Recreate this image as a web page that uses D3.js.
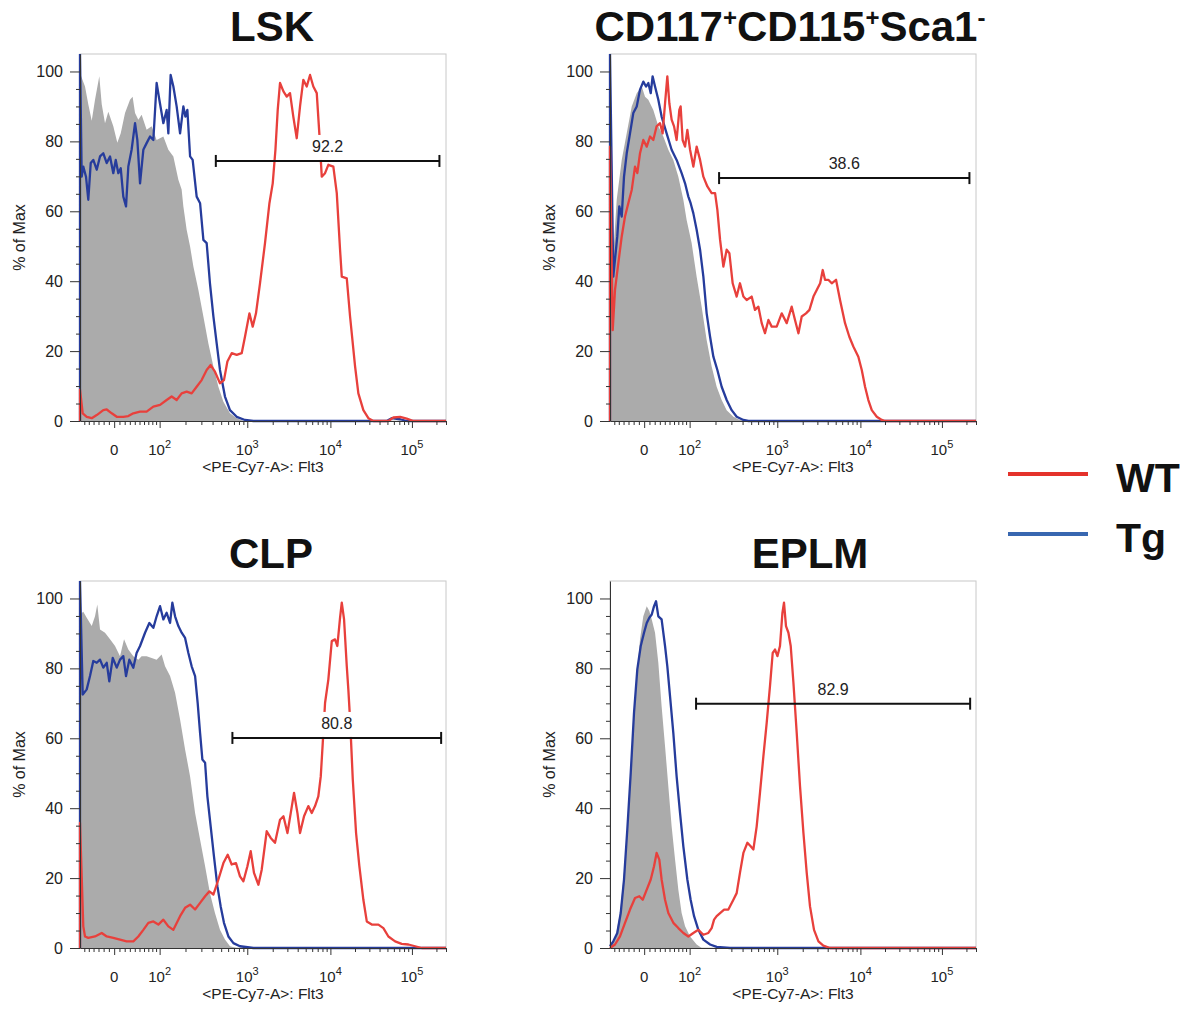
<!DOCTYPE html>
<html>
<head>
<meta charset="utf-8">
<script src="https://cdn.jsdelivr.net/npm/d3@7"></script>
<style>
  body { margin: 0; background: #fff; }
  svg { font-family: "Liberation Sans", Arial, sans-serif; }
</style>
</head>
<body>
<svg id="chart" width="1188" height="1010"></svg>
<script>
// Histograms: [channel (0-256 display bins), % of max]
var titles = ['LSK', 'CD117^+CD115^+Sca1^-', 'CLP', 'EPLM'];

var lskControl = [[0,99.5],[3.5,95.7],[5.8,90.6],[8.2,85.9],[10.5,91.9],[13.5,98.6],[15.2,90.6],[17.5,85.2],[19.8,88.5],[23.3,84.3],[26.1,79.6],[28.5,82.3],[31.5,88.1],[35,91.9],[36.8,92.8],[38.5,88.1],[40.8,86.2],[43.1,87.6],[46.6,83.3],[50.1,84.3],[53.6,80.4],[58.3,81.4],[61.8,77.6],[65.3,75.7],[68.8,69],[71.1,66.2],[72.3,61.4],[74.6,54.7],[77,49.9],[79.3,44.2],[82.8,37.5],[86.3,29.9],[89.8,22.2],[93.3,15.6],[96.8,9.8],[100.3,5.5],[104.9,2.2],[109.6,0.8],[114.3,0]];
var lskTg = [[0,0],[0,105],[1.2,69.9],[2.3,72.8],[4.2,69.9],[5.8,63.3],[7.5,73.8],[9.3,74.7],[11.7,71.9],[14,75.7],[16.3,76.6],[18.7,73.8],[21,75.7],[23.3,70.9],[25,74.7],[26.8,70.9],[28.5,72.3],[30.3,64.2],[32.2,61.4],[33.8,72.8],[36.1,77.6],[38.5,85.2],[40.1,80.4],[42,68],[44.3,77.6],[46.6,79.5],[49,81.4],[51.3,80.4],[53.6,96.7],[55.5,91.9],[58.3,85.2],[60.6,89],[61.8,82.3],[63.4,99],[65.3,95.7],[67.6,90],[70,82.3],[72.3,90],[73.7,87.1],[75.1,89],[77,75.7],[78.8,74.7],[81.6,64.2],[84,62.3],[86.3,51.8],[88.6,50.9],[90.9,39.4],[93.3,29.9],[95.6,22.2],[97.9,14.6],[101.4,7],[104.9,3.1],[109.6,1.2],[115.4,0.3],[121.3,0],[214.5,0],[218,0.8],[223.9,0.5],[228.5,0],[256.5,0]];
var lskWT = [[0,0],[0,9],[1.9,2.2],[4.7,1.2],[8.2,0.8],[11.7,1.7],[16.3,3.1],[18.7,3.3],[22.2,2.2],[25.7,1.2],[30.3,1.2],[33.8,1.4],[37.3,2.2],[42,2.7],[46.6,2.7],[51.3,4.1],[56,4.6],[60.6,6],[64.1,7],[67.6,6],[71.1,7.9],[74.6,8.4],[78.1,7.9],[81.6,9.8],[85.1,11.7],[88.6,14.6],[91.4,16],[94.4,14.1],[97.9,10.8],[100.7,11.7],[103.1,17],[106.1,19.4],[109.6,18.9],[113.1,19.4],[115.4,24.1],[118.5,30.8],[120.8,27],[123.1,30.8],[125.9,39.4],[129.4,50.9],[132.5,62.3],[134.8,68],[136.7,77.6],[138.3,89],[139.9,96.7],[142.3,94.3],[144.6,92.8],[146.9,93.8],[149.2,87.1],[151.6,80.9],[153.9,90],[156.2,97.6],[158.6,95.7],[160.9,99],[163.2,95.7],[165.6,93.8],[167.4,82.3],[169.1,69.9],[171.4,70.9],[173.7,73.3],[177.2,72.8],[179.6,65.2],[181.9,49],[183.1,41.3],[186.6,40.8],[188.9,29.9],[192.4,15.6],[194.7,7.9],[198.2,3.1],[201.7,0.8],[205.2,0],[215.7,0],[219.2,1],[223.9,1.2],[228.5,0.7],[233.2,0],[256.5,0]];

var cdControl = [[0,30],[1.2,40.4],[4.7,63.3],[8.2,74.7],[11.7,82.3],[15.2,90],[18.7,93.8],[22.2,95.7],[24.5,92.8],[26.8,91.9],[30.3,89],[33.8,84.3],[37.3,81.4],[40.8,77.6],[44.3,74.7],[47.8,69.9],[51.3,63.3],[53.6,57.5],[57.1,50.9],[60.6,41.3],[64.1,32.7],[67.6,23.2],[71.1,15.6],[74.6,9.8],[78.1,6],[81.6,3.1],[86.3,1.2],[90.9,0.3],[95.6,0]];
var cdTg = [[0,0],[0,105],[2.3,41.3],[5.1,52.8],[6.5,61.4],[8.2,58.5],[9.8,69.9],[11.7,76.6],[14,82.3],[16.3,88.1],[18.7,90],[21,94.8],[23.3,97.1],[25.2,95.7],[26.8,96.7],[28.5,93.8],[29.8,98.6],[31.5,95.7],[33.8,91.9],[36.1,87.1],[39.6,82.3],[43.1,77.6],[46.6,74.7],[50.1,70.9],[52.5,68],[54.8,64.2],[56.4,62.3],[58.3,59.4],[60.6,54.7],[63,49],[65.3,41.3],[67.6,30.8],[70,24.1],[72.3,18.4],[75.1,14.6],[78.1,9.8],[81.6,6],[85.1,3.1],[88.6,1.2],[93.3,0.3],[96.8,0],[256.5,0]];
var cdWT = [[0,0],[0,78.5],[1.9,26],[3.5,37.5],[5.8,45.1],[8.2,52.8],[10.5,58.5],[12.8,62.3],[15.2,66.1],[17.5,72.8],[19.1,70.9],[21,76.6],[23.3,80.4],[25.7,78.5],[28,81.4],[30.3,80.4],[32.6,84.3],[35,85.2],[36.8,82.3],[38.5,90.9],[40.1,98.6],[41.5,90.9],[43.1,86.2],[44.8,84.3],[46.6,80.4],[48.5,89],[49.4,90],[50.8,80.4],[52.5,78.5],[54.1,83.3],[56,77.6],[58.3,72.8],[60.6,78.5],[63,74.7],[65.3,69.9],[68.1,67.1],[71.1,65.2],[73.5,65.2],[75.1,60.4],[77,51.8],[79.3,44.2],[81.6,49],[83.5,48],[85.8,39.4],[88.6,35.6],[90.9,39.4],[93.3,35.6],[95.6,34.6],[99.1,35.6],[101.4,31.8],[103.8,32.7],[106.1,28],[108.4,25.1],[110.8,28.9],[113.1,27],[116.6,27],[120.1,30.8],[123.6,28],[127.1,32.7],[129.4,28.9],[131.8,25.1],[134.1,29.9],[137.1,30.8],[139.5,31.8],[142.3,35.6],[144.6,37.5],[147,39.4],[148.8,43.2],[150.4,40.4],[152.7,40.4],[155.1,39.4],[158.1,40.4],[160.9,34.6],[164.4,28],[167.4,24.1],[170.2,21.3],[173.7,18.4],[176.1,14.6],[178.4,9.8],[180.7,6],[183.1,3.1],[186.6,1.2],[190.1,0.3],[192.4,0],[256.5,0]];

var clpControl = [[0,95.4],[2.3,96.2],[4.7,94.5],[8.2,92.1],[10.5,94.9],[12.1,98.3],[14,91.1],[17.5,90.2],[21,88.3],[24.5,86.4],[28,83.5],[30.8,88.3],[33.8,85.4],[37.3,83.5],[40.8,82.5],[43.1,83.5],[46.6,83.5],[50.1,83],[53.6,82.5],[57.1,84],[59.5,80.6],[63,77.8],[66.5,73],[70,65.4],[73.5,56.8],[77,49.1],[80.5,38.6],[84,31],[87.5,23.4],[90.9,15.7],[94.4,10],[97.9,5.2],[101.4,2.4],[104.9,0.5],[109.6,0]];
var clpTg = [[0,0],[0,105],[1.9,72.5],[4.7,74],[7,77.8],[9.3,82.1],[11.7,81.6],[14,82.5],[16.3,80.2],[18.7,81.6],[20.5,76.3],[22.9,83],[25.7,80.2],[28,82.5],[30.3,83.5],[32.2,77.8],[34.5,82.5],[37.3,80.2],[39.6,84.4],[42,86.4],[45.5,90.2],[48.5,93],[51.3,91.6],[53.6,94.9],[56,97.8],[58.3,94],[60.6,95.9],[63,93],[64.6,98.8],[66.5,94.9],[68.8,92.1],[71.1,90.2],[73.5,88.7],[75.8,84.4],[78.1,80.6],[80.5,77.8],[82.3,70.1],[84,61.5],[85.6,53.9],[87.5,53],[89.1,43.4],[91.4,34.8],[93.7,26.2],[96.1,17.7],[98.4,11.9],[100.7,7.2],[103.8,3.3],[107.3,1.4],[111.9,0.5],[121.3,0],[256.5,0]];
var clpWT = [[0,0],[0,35.8],[2.3,6.2],[3.5,3.3],[5.8,2.9],[10.5,3.3],[15.2,4.3],[18.7,3.3],[23.3,2.9],[28,2.4],[32.6,1.9],[37.3,1.9],[40.8,3.3],[44.3,5.2],[47.8,7.2],[51.3,7.6],[54.8,6.7],[58.3,8.1],[61.8,6.2],[65.3,5.2],[70,9.1],[73.5,11.5],[77,12.4],[80.5,11],[84,12.9],[87.5,14.8],[90.5,16.2],[93.3,15.3],[96.8,19.6],[100.3,24.3],[103.3,26.7],[106.1,23.9],[109.1,24.3],[111.9,20.5],[114.3,19.1],[117.1,23.4],[119.4,27.7],[121.7,21.5],[124.8,18.1],[127.1,22.4],[130.6,33.4],[133.4,31.5],[136.4,30.1],[139.9,36.7],[142.3,37.7],[145.1,32.9],[147.4,38.6],[149.7,44.4],[152.1,38.6],[153.9,32.9],[156.7,37.7],[159.7,40.6],[162.1,38.6],[164.4,40.6],[166.7,43.4],[168.4,49.1],[169.8,58.7],[171.4,70.1],[173.7,76.8],[176.1,87.8],[178.4,88.3],[180,86.4],[181.9,94.5],[183.1,98.8],[184.7,94],[186.6,80.6],[187.7,73.9],[188.9,65.4],[190.8,48.2],[193.1,32.9],[195.4,23.4],[198.2,13.8],[200.6,7.6],[204.1,6.7],[208.7,6.7],[212.2,5.7],[215.7,3.3],[220.4,1.9],[225,1.2],[229.7,1],[234.4,0.5],[239,0],[256.5,0]];

var eplmControl = [[0,0.5],[3.5,2.4],[7,10],[9.3,19.6],[11.7,31],[14,46.3],[16.3,62.5],[18.7,76.8],[21,88.3],[23.3,94.9],[25.7,97.8],[27.5,96.4],[29.2,94],[31.5,90.2],[33.8,81.6],[36.1,69.2],[38.5,57.7],[40.8,46.3],[43.1,34.8],[45.5,25.3],[47.8,16.7],[50.1,10],[52.5,6.2],[56,3.3],[60.6,1],[64.1,0]];
var eplmTg = [[0,0.5],[2.3,1.9],[5.1,4.3],[7.5,10],[9.8,19.6],[12.1,33.9],[14.5,50.1],[16.8,67.3],[19.1,79.7],[21.5,86.4],[23.8,90.2],[25.7,93],[27.5,94.5],[29.2,95.4],[30.8,97.8],[32.2,99.2],[33.8,94.9],[36.1,94],[38.5,86.4],[40.1,80.6],[42,72],[44.3,61.5],[46.6,49.1],[49,38.6],[51.3,29.1],[54.1,19.6],[56.4,13.8],[58.8,9.1],[61.8,5.2],[65.3,2.4],[70,1],[74.6,0.3],[84,0],[256.5,0]];
var eplmWT = [[0,0],[3.5,1],[7,3.3],[10.5,7.2],[14,11],[17.5,14.3],[20.5,14.8],[22.9,13.8],[25.7,16.7],[28.5,19.6],[30.8,23.4],[32.6,27.2],[34.5,25.3],[36.1,19.6],[38.5,13.8],[40.8,10],[44.3,7.2],[47.8,5.7],[51.3,4.3],[54.8,3.3],[58.3,4.3],[61.8,5.2],[65.3,3.8],[68.8,4.3],[71.1,5.7],[72.8,8.1],[74.6,9.1],[77,10],[79.8,11],[82.8,11],[86.3,13.8],[88.6,15.7],[90.9,21.5],[93.3,27.2],[96.1,30.1],[98.4,29.1],[100.3,28.2],[102.6,34.8],[104.9,44.4],[107.3,54.9],[109.6,64.4],[111.9,74.9],[113.8,84.4],[115.4,85.4],[117.1,83.5],[118.9,86.4],[120.6,95.9],[121.7,98.8],[123.1,92.1],[124.8,90.2],[126.4,86.4],[128.3,75.9],[130.6,61.5],[132.9,46.3],[135.3,32.9],[137.6,21.5],[139.9,11.9],[142.7,5.2],[145.8,1.9],[149.2,0.7],[153.9,0],[256.5,0]];

// Gates: start channel, end channel, level (% of max), label
var gateStart = [95, 76.3, 106.6, 60.2];
var gateEnd = [251.4, 251.4, 252.6, 251.9];
var gateLevel = [74.4, 69.5, 60.1, 69.9];
var gateLabels = ['92.2', '38.6', '80.8', '82.9'];

var xMajorValues = [0, 1e2, 1e3, 1e4, 1e5];
var xMajorLabels = [['0', ''], ['10', '2'], ['10', '3'], ['10', '4'], ['10', '5']];
var yMajorValues = [0, 20, 40, 60, 80, 100];

var legendLabels = ['WT', 'Tg'];
var xTitle = '<PE-Cy7-A>: Flt3';
var yTitle = '% of Max';

// layout
var panelOrigins = [[0, 0], [530, 0], [0, 527], [530, 527]];
var titleShift = [9, -3, 8, 17];
var plotLeft = 80, plotTop = 54, plotW = 366, plotH = 367;
var colors = { wt: '#e8403c', tg: '#263c9c', control: '#ababab', axis: '#333' };

// logicle display transform (FlowJo style), returns fraction of the axis
function makeLogicle(T, W, M) {
    var w = W * Math.LN10;
    var m = M * Math.LN10;
    var lo = 1, hi = 10;
    for (var i = 0; i < 60; i++) {
        var mid = (lo + hi) / 2;
        if (2 * mid * Math.log(mid) / (mid + 1) < w) lo = mid; else hi = mid;
    }
    var p = (lo + hi) / 2;
    var k = T * Math.exp(-(m - w));
    function S(x) {
        if (x < w) return -S(2 * w - x);
        return k * (Math.exp(x - w) - p * p * Math.exp(-(x - w) / p) + p * p - 1);
    }
    return function (v) {
        var a = 0, b = m;
        for (var j = 0; j < 60; j++) {
            var c = (a + b) / 2;
            if (S(c) < v) a = c; else b = c;
        }
        return (a + b) / 2 / m;
    };
}

var logicle = makeLogicle(262144, 0.42, 4.5);
var toChannel = function (v) { return 256 * logicle(v); };

var xMinorValues = [];
for (var v = -90; v <= 90; v += 10) { if (v !== 0) xMinorValues.push(v); }
[100, 1000, 10000, 100000].forEach(function (dec) {
    for (var n = 2; n <= 9; n++) xMinorValues.push(n * dec);
});
var xMajorCh = xMajorValues.map(toChannel);
var xMinorCh = xMinorValues.map(toChannel).filter(function (c) { return c > 0.5 && c < 256; });
var yMinorValues = d3.range(0, 105, 5).filter(function (d) { return d % 20 !== 0; });

var panels = [
    { control: lskControl, tg: lskTg, wt: lskWT },
    { control: cdControl, tg: cdTg, wt: cdWT },
    { control: clpControl, tg: clpTg, wt: clpWT },
    { control: eplmControl, tg: eplmTg, wt: eplmWT }
];

var svg = d3.select('#chart');

var x = d3.scaleLinear().domain([0, 256]).range([0, plotW]);
var y = d3.scaleLinear().domain([0, 105]).range([plotH, 0]);

var line = d3.line()
    .x(function (d) { return x(d[0]); })
    .y(function (d) { return y(d[1]); });
var area = d3.area()
    .x(function (d) { return x(d[0]); })
    .y0(y(0))
    .y1(function (d) { return y(d[1]); });

panels.forEach(function (p, i) {
    var g = svg.append('g')
        .attr('transform', 'translate(' + panelOrigins[i][0] + ',' + panelOrigins[i][1] + ')');

    // title, with superscripts marked by ^
    var title = g.append('text')
        .attr('x', plotLeft + plotW / 2 + titleShift[i])
        .attr('y', 41)
        .attr('text-anchor', 'middle')
        .attr('font-size', 42)
        .attr('font-weight', 'bold')
        .attr('fill', '#111');
    var raised = false;
    titles[i].split(/(\^.)/).filter(function (s) { return s.length; }).forEach(function (s) {
        if (s[0] === '^') {
            title.append('tspan').attr('font-size', 24).attr('dy', raised ? 0 : -15).text(s[1]);
            raised = true;
        } else {
            title.append('tspan').attr('dy', raised ? 15 : 0).text(s);
            raised = false;
        }
    });

    var plot = g.append('g').attr('transform', 'translate(' + plotLeft + ',' + plotTop + ')');

    plot.append('rect')
        .attr('width', plotW)
        .attr('height', plotH)
        .attr('fill', 'none')
        .attr('stroke', '#c8c8c8');

    var clipId = 'clip' + i;
    plot.append('clipPath').attr('id', clipId)
        .append('rect')
        .attr('x', -2).attr('y', 0)
        .attr('width', plotW + 2).attr('height', plotH + 2);

    var curves = plot.append('g').attr('clip-path', 'url(#' + clipId + ')');
    curves.append('path').datum(p.control)
        .attr('d', area)
        .attr('fill', colors.control);
    curves.append('path').datum(p.tg)
        .attr('d', line)
        .attr('fill', 'none')
        .attr('stroke', colors.tg)
        .attr('stroke-width', 2.3)
        .attr('stroke-linejoin', 'round');
    curves.append('path').datum(p.wt)
        .attr('d', line)
        .attr('fill', 'none')
        .attr('stroke', colors.wt)
        .attr('stroke-width', 2.3)
        .attr('stroke-linejoin', 'round');

    // y axis
    var yAxis = plot.append('g')
        .call(d3.axisLeft(y).tickValues(yMajorValues).tickSize(10).tickSizeOuter(0).tickPadding(7));
    plot.append('g')
        .call(d3.axisLeft(y).tickValues(yMinorValues).tickSize(4).tickFormat(''))
        .select('.domain').remove();

    // x axis
    plot.append('g')
        .attr('transform', 'translate(0,' + plotH + ')')
        .call(d3.axisBottom(x).tickValues(xMajorCh).tickSize(7).tickSizeOuter(0).tickFormat(''));
    plot.append('g')
        .attr('transform', 'translate(0,' + plotH + ')')
        .call(d3.axisBottom(x).tickValues(xMinorCh).tickSize(4).tickFormat(''))
        .select('.domain').remove();

    plot.selectAll('.tick line, .domain').attr('stroke', colors.axis);
    yAxis.selectAll('text').attr('font-size', 16).attr('fill', '#222').attr('font-family', null);

    xMajorCh.forEach(function (c, j) {
        var t = plot.append('text')
            .attr('x', x(c))
            .attr('y', plotH + 34)
            .attr('text-anchor', 'middle')
            .attr('font-size', 15)
            .attr('fill', '#222')
            .text(xMajorLabels[j][0]);
        if (xMajorLabels[j][1]) {
            t.append('tspan').attr('font-size', 11).attr('dy', -7).text(xMajorLabels[j][1]);
        }
    });

    plot.append('text')
        .attr('x', plotW / 2)
        .attr('y', plotH + 51)
        .attr('text-anchor', 'middle')
        .attr('font-size', 15.5)
        .attr('fill', '#222')
        .text(xTitle);

    g.append('text')
        .attr('transform', 'translate(25,' + (plotTop + plotH / 2) + ') rotate(-90)')
        .attr('text-anchor', 'middle')
        .attr('font-size', 16)
        .attr('fill', '#222')
        .text(yTitle);

    // gate bar with its percentage
    var gate = plot.append('g');
    var gy = y(gateLevel[i]);
    var gx0 = x(gateStart[i]), gx1 = x(gateEnd[i]);
    var box = gate.append('rect').attr('fill', '#fff');
    gate.append('line')
        .attr('x1', gx0).attr('x2', gx1).attr('y1', gy).attr('y2', gy)
        .attr('stroke', '#111').attr('stroke-width', 2);
    [gx0, gx1].forEach(function (gx) {
        gate.append('line')
            .attr('x1', gx).attr('x2', gx).attr('y1', gy - 6).attr('y2', gy + 6)
            .attr('stroke', '#111').attr('stroke-width', 2);
    });
    var label = gate.append('text')
        .attr('x', (gx0 + gx1) / 2)
        .attr('y', gy - 9)
        .attr('text-anchor', 'middle')
        .attr('font-size', 16)
        .attr('fill', '#222')
        .text(gateLabels[i]);
    var bb = label.node().getBBox();
    box.attr('x', bb.x - 2)
        .attr('y', bb.y - 3)
        .attr('width', bb.width + 4)
        .attr('height', gy - 1 - (bb.y - 3));
});

// legend
var legend = svg.append('g');
['#e4322b', '#3867b0'].forEach(function (c, i) {
    var ly = 474 + i * 60;
    legend.append('line')
        .attr('x1', 1008).attr('x2', 1088)
        .attr('y1', ly).attr('y2', ly)
        .attr('stroke', c)
        .attr('stroke-width', 4);
    legend.append('text')
        .attr('x', 1116)
        .attr('y', ly + 18)
        .attr('font-size', 41)
        .attr('font-weight', 'bold')
        .attr('fill', '#111')
        .text(legendLabels[i]);
});
</script>
</body>
</html>
